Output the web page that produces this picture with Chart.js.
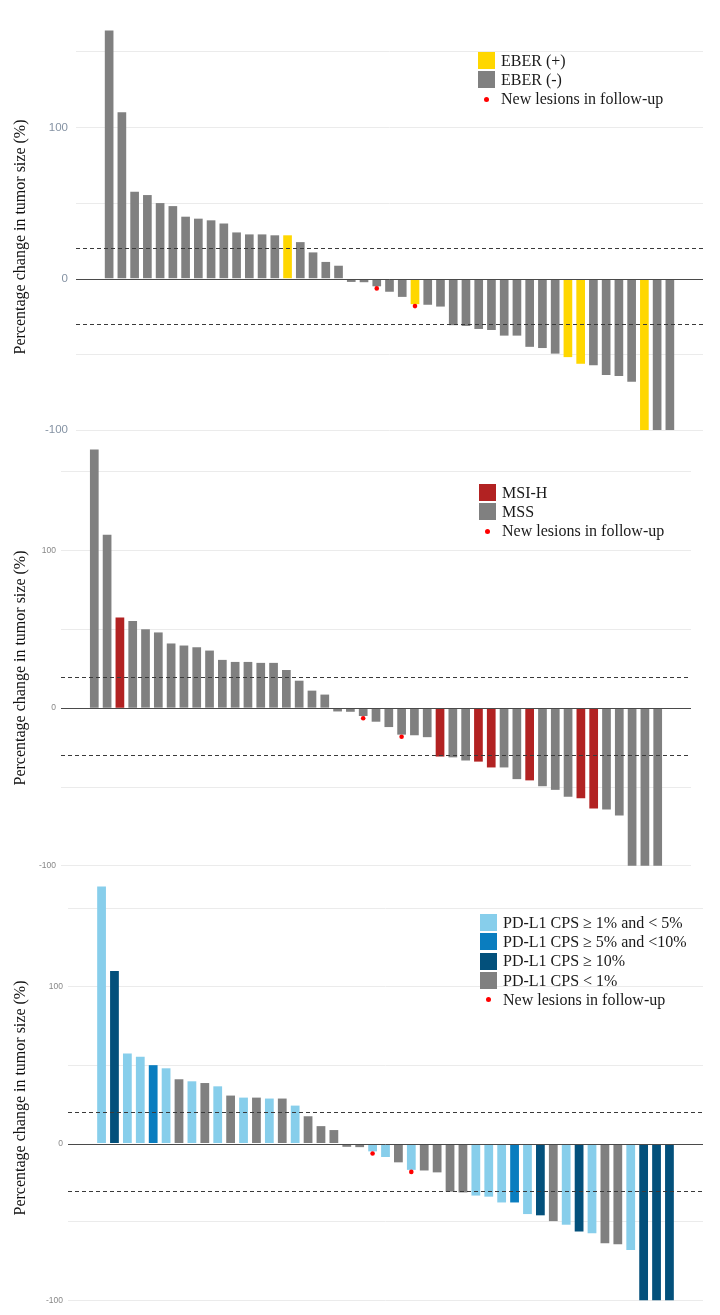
<!DOCTYPE html>
<html>
<head>
<meta charset="utf-8">
<title>Waterfall plots</title>
<script src="https://cdn.jsdelivr.net/npm/chart.js@4.4.1/dist/chart.umd.min.js"></script>
<style>
  body { margin: 0; background: #fff; }
  #fig { position: relative; width: 720px; height: 1315px; overflow: hidden; }
  #fig canvas { position: absolute; left: 0; }
  .legend {
    position: absolute;
    font-family: 'Liberation Serif', 'Times New Roman', serif;
    font-size: 16px;
    color: #1a1a1a;
  }
  .legend .row { display: flex; align-items: center; height: 19.3px; white-space: nowrap; }
  .legend .key { width: 17px; height: 17px; margin-right: 6px; flex: none; }
  .legend .dot { width: 5px; height: 5px; border-radius: 50%; background: #ff0000; margin: 0 12px 0 6px; flex: none; }
</style>
</head>
<body>
<div id="fig">
  <canvas id="chart-eber" width="720" height="474" style="top:0px"></canvas>
  <canvas id="chart-msi" width="720" height="468" style="top:434px"></canvas>
  <canvas id="chart-pdl1" width="720" height="452" style="top:872px"></canvas>

  <div class="legend" style="left:478px; top:51px">
    <div class="row"><span class="key" style="background:#FFD700"></span>EBER (+)</div>
    <div class="row"><span class="key" style="background:#808080"></span>EBER (-)</div>
    <div class="row"><span class="dot"></span>New lesions in follow-up</div>
  </div>
  <div class="legend" style="left:479px; top:483px">
    <div class="row"><span class="key" style="background:#B22222"></span>MSI-H</div>
    <div class="row"><span class="key" style="background:#808080"></span>MSS</div>
    <div class="row"><span class="dot"></span>New lesions in follow-up</div>
  </div>
  <div class="legend" style="left:480px; top:913px">
    <div class="row"><span class="key" style="background:#87CEEB"></span>PD-L1 CPS ≥ 1% and &lt; 5%</div>
    <div class="row"><span class="key" style="background:#0A7DBF"></span>PD-L1 CPS ≥ 5% and &lt;10%</div>
    <div class="row"><span class="key" style="background:#03507B"></span>PD-L1 CPS ≥ 10%</div>
    <div class="row"><span class="key" style="background:#808080"></span>PD-L1 CPS &lt; 1%</div>
    <div class="row"><span class="dot"></span>New lesions in follow-up</div>
  </div>
</div>

<script>
// Best percentage change in tumor size, patients sorted (same order in all three panels)
const changePct = [
  164, 110, 57.5, 55.3, 50, 48, 41, 39.7, 38.6, 36.5,
  30.6, 29.3, 29.3, 28.7, 28.7, 24.2, 17.4, 11.1, 8.6, -2.1,
  -2.3, -5, -8.6, -12, -16.8, -17.2, -18.4, -30.7, -31.2, -33.2,
  -33.9, -37.6, -37.6, -45, -45.8, -49.5, -51.8, -56.2, -57.2, -63.6,
  -64.3, -68, -100, -100, -100
];

// positions (1-based) of EBER (+) and MSI-H patients
const eberPositive = [15, 25, 37, 38, 43];
const msiHigh = [3, 28, 31, 32, 35, 39, 40];

// PD-L1 CPS group of each patient
const pdl1Cps = [
  '1-5', '>=10', '1-5', '1-5', '5-10', '1-5', '<1', '1-5', '<1', '1-5',
  '<1', '1-5', '<1', '1-5', '<1', '1-5', '<1', '<1', '<1', '<1',
  '<1', '1-5', '1-5', '<1', '1-5', '<1', '<1', '<1', '<1', '1-5',
  '1-5', '1-5', '5-10', '1-5', '>=10', '<1', '1-5', '>=10', '1-5', '<1',
  '<1', '1-5', '>=10', '>=10', '>=10'
];

// new lesions in follow-up: patient position and marker value
const newLesionPos = [22, 25];
const newLesionY = [-6.4, -18.1];

// dashed reference lines (PD / PR thresholds)
const thresholds = [20, -30];
const yGridValues = [-100, -50, 0, 50, 100, 150];
const yTickLabels = [-100, 0, 100];

const GRAY = '#808080';
const pdl1Colors = { '1-5': '#87CEEB', '5-10': '#0A7DBF', '>=10': '#03507B', '<1': GRAY };

/**
 * Draw zero line and dashed threshold lines over the bars
 */
const refLines = {
  id: 'refLines',
  afterDatasetsDraw(chart) {
    const { ctx, chartArea: a, scales: { y } } = chart;
    ctx.save();
    ctx.lineWidth = 1;
    ctx.strokeStyle = '#3a3a3a';
    ctx.setLineDash([4, 3]);
    thresholds.forEach(t => {
      const py = Math.round(y.getPixelForValue(t)) + 0.5;
      ctx.beginPath();
      ctx.moveTo(a.left, py);
      ctx.lineTo(a.right, py);
      ctx.stroke();
    });
    ctx.setLineDash([]);
    ctx.strokeStyle = '#4a4a4a';
    const z = Math.round(y.getPixelForValue(0)) + 0.5;
    ctx.beginPath();
    ctx.moveTo(a.left, z);
    ctx.lineTo(a.right, z);
    ctx.stroke();
    ctx.restore();
  }
};

/**
 * Build one waterfall panel
 */
function makePanel(id, colors, p) {
  const n = changePct.length;
  const config = {
    type: 'bar',
    data: {
      datasets: [
        {
          type: 'scatter',
          order: 0,
          data: newLesionPos.map((x, i) => ({ x: x, y: newLesionY[i] })),
          pointRadius: 2.3,
          pointBorderWidth: 0,
          pointBackgroundColor: '#ff0000'
        },
        {
          order: 1,
          data: changePct.map((v, i) => ({ x: i + 1, y: v })),
          backgroundColor: colors,
          borderWidth: 0,
          barPercentage: 0.68,
          categoryPercentage: 1
        }
      ]
    },
    options: {
      responsive: false,
      animation: false,
      layout: { padding: { top: 8, bottom: 8, left: 0, right: p.padRight } },
      plugins: { legend: { display: false }, tooltip: { enabled: false } },
      scales: {
        x: {
          type: 'linear',
          display: false,
          offset: false,
          min: 1 - 2.6,
          max: n + 2.6
        },
        y: {
          min: p.yMin,
          max: p.yMax,
          border: { display: false },
          grid: {
            drawTicks: false,
            lineWidth: 1,
            color: c => (c.tick && c.tick.value === 0) ? 'rgba(0,0,0,0)' : '#ebebeb'
          },
          afterBuildTicks: scale => {
            scale.ticks = yGridValues.filter(v => v >= scale.min && v <= scale.max).map(v => ({ value: v }));
          },
          afterFit: scale => { scale.width = p.left; },
          ticks: {
            padding: p.tickPad,
            color: p.tickColor,
            font: { family: "'Liberation Sans', Arial, sans-serif", size: p.tickSize },
            callback: v => yTickLabels.includes(v) ? String(v) : ''
          },
          title: {
            display: true,
            text: 'Percentage change in tumor size (%)',
            color: '#111',
            padding: { top: 11, bottom: 0 },
            font: { family: "'Liberation Serif', 'Times New Roman', serif", size: 16, lineHeight: 1.2 }
          }
        }
      }
    },
    plugins: [refLines]
  };
  return new Chart(document.getElementById(id), config);
}

const eberColors = changePct.map((v, i) => eberPositive.includes(i + 1) ? '#FFD700' : GRAY);
const msiColors = changePct.map((v, i) => msiHigh.includes(i + 1) ? '#B22222' : GRAY);
const cpsColors = pdl1Cps.map(g => pdl1Colors[g]);

makePanel('chart-eber', eberColors, {
  left: 76, padRight: 17, yMin: -119.2, yMax: 174.36,
  tickPad: 8, tickSize: 11.5, tickColor: '#8492a3'
});
makePanel('chart-msi', msiColors, {
  left: 61, padRight: 29, yMin: -116.5, yMax: 167.4,
  tickPad: 5, tickSize: 8.5, tickColor: '#888888'
});
makePanel('chart-pdl1', cpsColors, {
  left: 68, padRight: 17, yMin: -108.7, yMax: 166.8,
  tickPad: 5, tickSize: 8.5, tickColor: '#888888'
});
</script>
</body>
</html>
